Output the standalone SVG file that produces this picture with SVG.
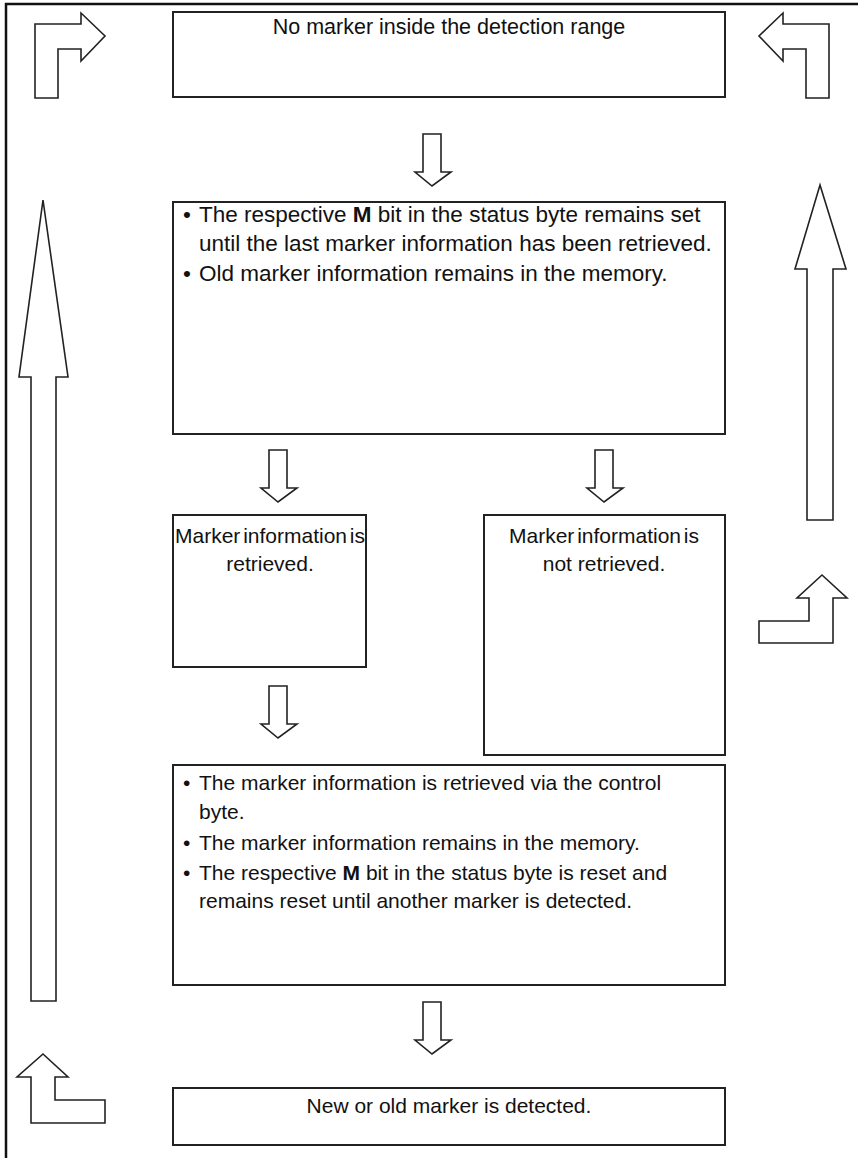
<svg xmlns="http://www.w3.org/2000/svg" width="858" height="1158" viewBox="0 0 858 1158">
<style>
.box{fill:#fff;stroke:#222;stroke-width:2}
.arr{fill:#fff;stroke:#222;stroke-width:1.6;stroke-linejoin:miter}
.t{font-family:"Liberation Sans",Arial,sans-serif;font-size:21px;fill:#111}
.L{font-size:22.5px}
.c{text-anchor:middle}
.b{font-weight:bold}
</style>
<rect width="858" height="1158" fill="#fff"/>
<g id="frame"><path d="M6,1158 V4 H858" fill="none" stroke="#111" stroke-width="2.5"/></g>
<g id="connectors">
<path class="arr" d="M35,98 V24 H81 V13 L105,36 L81,61 V49 H58 V98 Z"/>
<path class="arr" d="M829,98 V24 H783 V13 L759,36 L783,61 V49 H806 V98 Z"/>
<path class="arr" d="M43,200 L68,377 H56 V1001 H31 V377 H19 Z"/>
<path class="arr" d="M820,185 L846,269 H833 V520 H807 V269 H795 Z"/>
<path class="arr" d="M822,575 L847,598 H833 V643 H759 V621 H809 V598 H797 Z"/>
<path class="arr" d="M43,1054 L68,1077 H55 V1100 H105 V1123 H31 V1077 H17 Z"/>
<path class="arr" d="M423,134 H441 V172 H451 L432,186 L415,172 H423 Z"/>
<path class="arr" d="M269,450 H287 V488 H297 L278,502 L261,488 H269 Z"/>
<path class="arr" d="M595,450 H613 V488 H623 L604,502 L587,488 H595 Z"/>
<path class="arr" d="M269,686 H287 V724 H297 L278,738 L261,724 H269 Z"/>
<path class="arr" d="M423,1002 H441 V1040 H451 L432,1054 L415,1040 H423 Z"/>
</g>
<g id="n1"><rect class="box" x="173" y="12" width="552" height="85"/>
<text class="t c" x="449" y="34" style="font-size:21.5px">No marker inside the detection range</text></g>
<g id="n2"><rect class="box" x="173" y="202" width="552" height="232"/>
<text class="t L" x="183" y="222">•</text><text class="t L" x="199" y="222">The respective <tspan class="b">M</tspan> bit in the status byte remains set</text>
<text class="t L" x="199" y="251">until the last marker information has been retrieved.</text>
<text class="t L" x="183" y="281">•</text><text class="t L" x="199" y="281">Old marker information remains in the memory.</text></g>
<g id="n3"><rect class="box" x="173" y="515" width="193" height="152"/>
<text class="t c" x="270" y="543" word-spacing="-3">Marker information is</text>
<text class="t c" x="270" y="571">retrieved.</text></g>
<g id="n4"><rect class="box" x="484" y="515" width="241" height="240"/>
<text class="t c" x="604" y="543" word-spacing="-3">Marker information is</text>
<text class="t c" x="604" y="571">not retrieved.</text></g>
<g id="n5"><rect class="box" x="173" y="765" width="552" height="220"/>
<text class="t" x="183" y="790">•</text><text class="t" x="199" y="790">The marker information is retrieved via the control</text>
<text class="t" x="199" y="819">byte.</text>
<text class="t" x="183" y="850">•</text><text class="t" x="199" y="850">The marker information remains in the memory.</text>
<text class="t" x="183" y="880">•</text><text class="t" x="199" y="880">The respective <tspan class="b">M</tspan> bit in the status byte is reset and</text>
<text class="t" x="199" y="908">remains reset until another marker is detected.</text></g>
<g id="n6"><rect class="box" x="173" y="1088" width="552" height="57"/>
<text class="t c" x="449" y="1113">New or old marker is detected.</text></g>
</svg>
